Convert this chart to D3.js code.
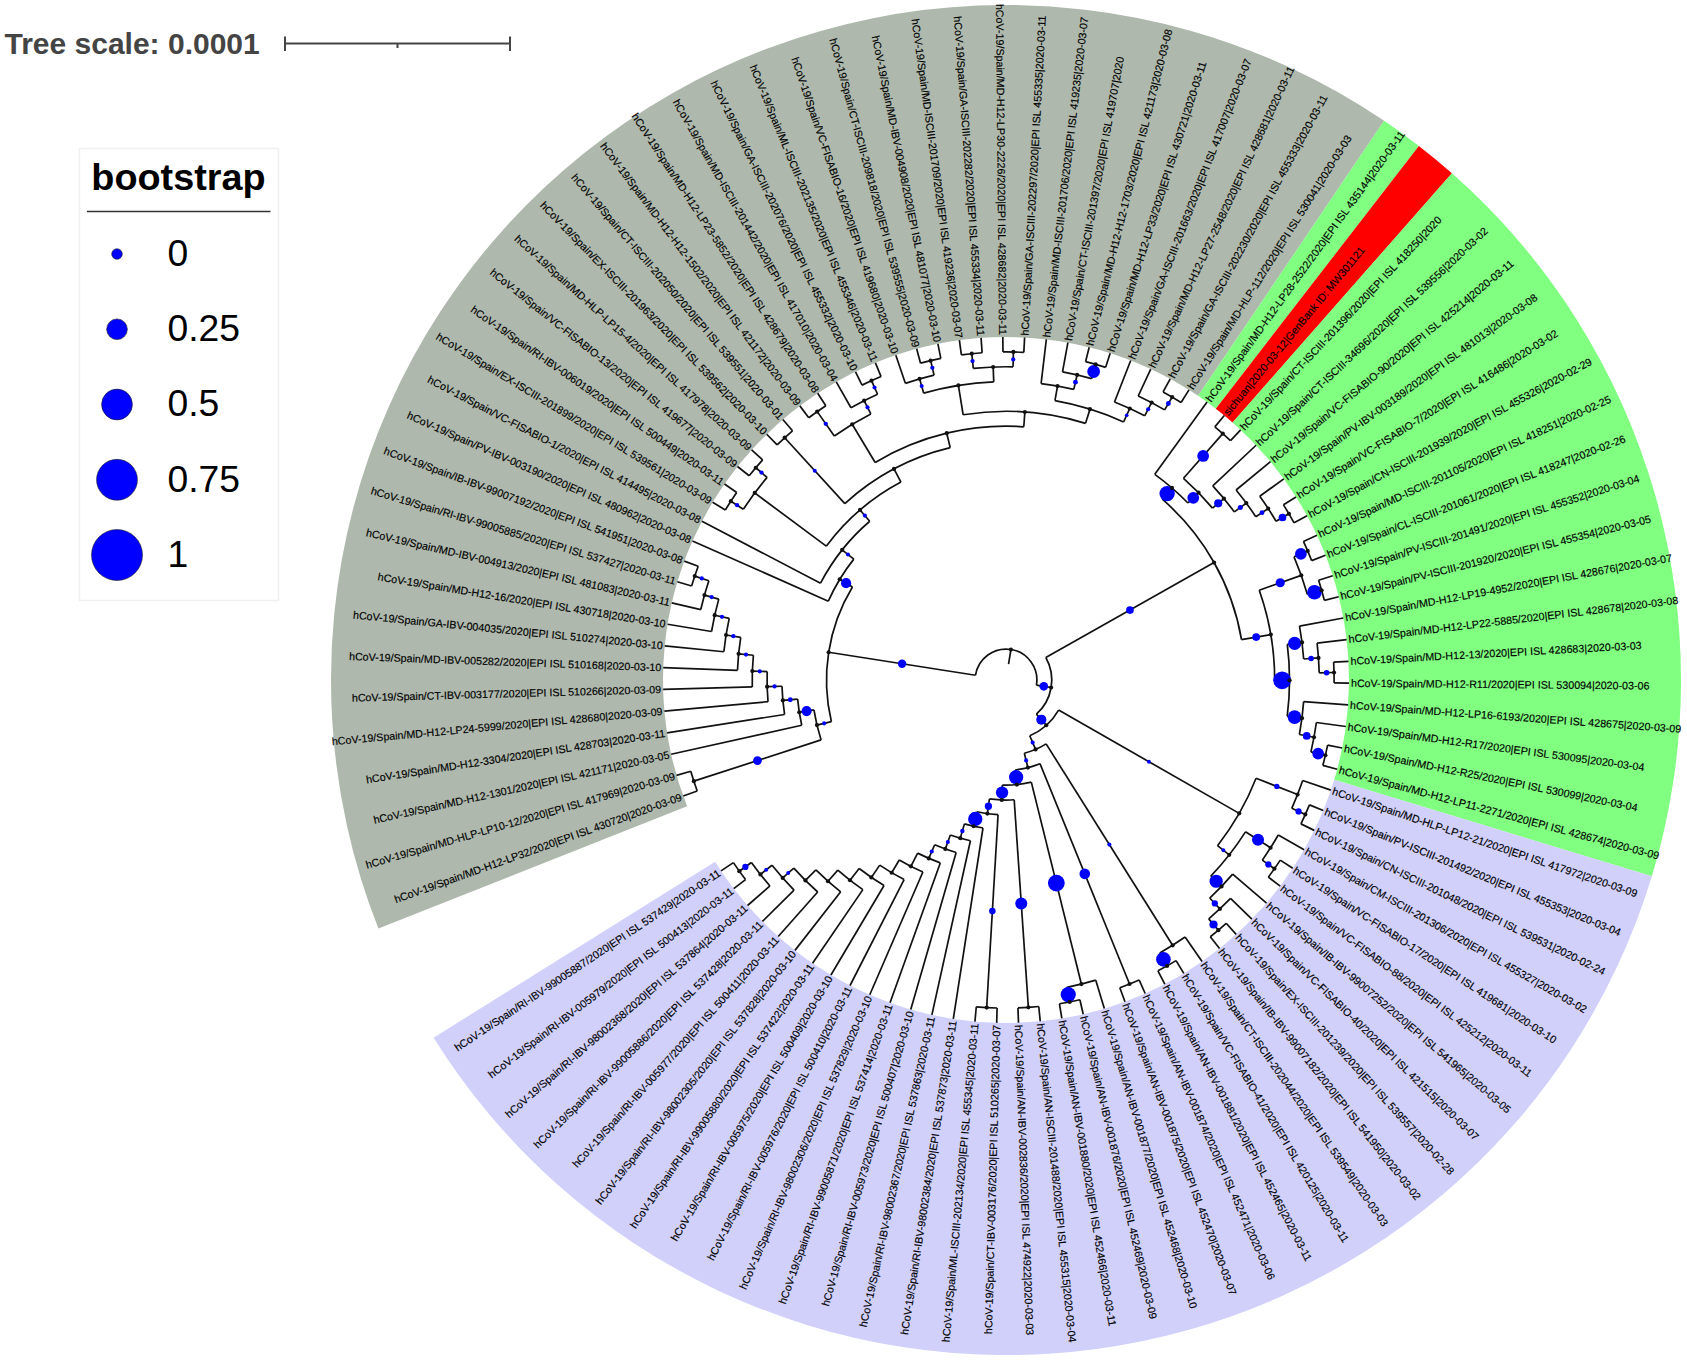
<!DOCTYPE html>
<html>
<head>
<meta charset="utf-8">
<script src="https://cdn.jsdelivr.net/npm/d3@7"></script>
<style>
  body { margin: 0; background: #fff; }
  text { font-family: "Liberation Sans", Arial, sans-serif; }
</style>
</head>
<body>
<svg id="tree" width="1687" height="1361"></svg>
<script>
// tip labels, clockwise from the lower end of the grey clade
const grayLabels = [
  "hCoV-19/Spain/MD-H12-LP32/2020|EPI ISL 430720|2020-03-09",
  "hCoV-19/Spain/MD-HLP-LP10-12/2020|EPI ISL 417969|2020-03-09",
  "hCoV-19/Spain/MD-H12-1301/2020|EPI ISL 421171|2020-03-05",
  "hCoV-19/Spain/MD-H12-3304/2020|EPI ISL 428703|2020-03-11",
  "hCoV-19/Spain/MD-H12-LP24-5999/2020|EPI ISL 428680|2020-03-09",
  "hCoV-19/Spain/CT-IBV-003177/2020|EPI ISL 510266|2020-03-09",
  "hCoV-19/Spain/MD-IBV-005282/2020|EPI ISL 510168|2020-03-10",
  "hCoV-19/Spain/GA-IBV-004035/2020|EPI ISL 510274|2020-03-10",
  "hCoV-19/Spain/MD-H12-16/2020|EPI ISL 430718|2020-03-10",
  "hCoV-19/Spain/MD-IBV-004913/2020|EPI ISL 481083|2020-03-11",
  "hCoV-19/Spain/RI-IBV-99005885/2020|EPI ISL 537427|2020-03-11",
  "hCoV-19/Spain/IB-IBV-99007192/2020|EPI ISL 541951|2020-03-08",
  "hCoV-19/Spain/PV-IBV-003190/2020|EPI ISL 480962|2020-03-08",
  "hCoV-19/Spain/VC-FISABIO-1/2020|EPI ISL 414495|2020-03-08",
  "hCoV-19/Spain/EX-ISCIII-201899/2020|EPI ISL 539561|2020-03-09",
  "hCoV-19/Spain/RI-IBV-006019/2020|EPI ISL 500449|2020-03-11",
  "hCoV-19/Spain/VC-FISABIO-13/2020|EPI ISL 419677|2020-03-09",
  "hCoV-19/Spain/MD-HLP-LP15-4/2020|EPI ISL 417978|2020-03-09",
  "hCoV-19/Spain/EX-ISCIII-201963/2020|EPI ISL 539562|2020-03-10",
  "hCoV-19/Spain/CT-ISCIII-202050/2020|EPI ISL 539551|2020-03-01",
  "hCoV-19/Spain/MD-H12-H12-1502/2020|EPI ISL 421172|2020-03-09",
  "hCoV-19/Spain/MD-H12-LP23-5852/2020|EPI ISL 428679|2020-03-08",
  "hCoV-19/Spain/MD-ISCIII-201442/2020|EPI ISL 417010|2020-03-04",
  "hCoV-19/Spain/GA-ISCIII-202076/2020|EPI ISL 455332|2020-03-10",
  "hCoV-19/Spain/ML-ISCIII-202135/2020|EPI ISL 455346|2020-03-11",
  "hCoV-19/Spain/VC-FISABIO-16/2020|EPI ISL 419680|2020-03-10",
  "hCoV-19/Spain/CT-ISCIII-209818/2020|EPI ISL 539555|2020-03-09",
  "hCoV-19/Spain/MD-IBV-004908/2020|EPI ISL 481077|2020-03-10",
  "hCoV-19/Spain/MD-ISCIII-201709/2020|EPI ISL 419236|2020-03-07",
  "hCoV-19/Spain/GA-ISCIII-202282/2020|EPI ISL 455334|2020-03-11",
  "hCoV-19/Spain/MD-H12-LP30-2226/2020|EPI ISL 428682|2020-03-11",
  "hCoV-19/Spain/GA-ISCIII-202297/2020|EPI ISL 455335|2020-03-11",
  "hCoV-19/Spain/MD-ISCIII-201706/2020|EPI ISL 419235|2020-03-07",
  "hCoV-19/Spain/CT-ISCIII-201397/2020|EPI ISL 419707|2020",
  "hCoV-19/Spain/MD-H12-H12-1703/2020|EPI ISL 421173|2020-03-08",
  "hCoV-19/Spain/MD-H12-LP33/2020|EPI ISL 430721|2020-03-11",
  "hCoV-19/Spain/GA-ISCIII-201663/2020|EPI ISL 417007|2020-03-07",
  "hCoV-19/Spain/MD-H12-LP27-2548/2020|EPI ISL 428681|2020-03-11",
  "hCoV-19/Spain/GA-ISCIII-202230/2020|EPI ISL 455333|2020-03-11",
  "hCoV-19/Spain/MD-HLP-112/2020|EPI ISL 530041|2020-03-03"
];
const greenLabels = [
  "hCoV-19/Spain/MD-H12-LP28-2522/2020|EPI ISL 435144|2020-03-11",
  "sichuan|2020-03-12|GenBank ID: MW301121",
  "hCoV-19/Spain/CT-ISCIII-201396/2020|EPI ISL 418250|2020",
  "hCoV-19/Spain/CT-ISCIII-34696/2020|EPI ISL 539556|2020-03-02",
  "hCoV-19/Spain/VC-FISABIO-90/2020|EPI ISL 425214|2020-03-11",
  "hCoV-19/Spain/PV-IBV-003189/2020|EPI ISL 481013|2020-03-08",
  "hCoV-19/Spain/VC-FISABIO-7/2020|EPI ISL 416486|2020-03-02",
  "hCoV-19/Spain/CN-ISCIII-201939/2020|EPI ISL 455326|2020-02-29",
  "hCoV-19/Spain/MD-ISCIII-201105/2020|EPI ISL 418251|2020-02-25",
  "hCoV-19/Spain/CL-ISCIII-201061/2020|EPI ISL 418247|2020-02-26",
  "hCoV-19/Spain/PV-ISCIII-201491/2020|EPI ISL 455352|2020-03-04",
  "hCoV-19/Spain/PV-ISCIII-201920/2020|EPI ISL 455354|2020-03-05",
  "hCoV-19/Spain/MD-H12-LP19-4952/2020|EPI ISL 428676|2020-03-07",
  "hCoV-19/Spain/MD-H12-LP22-5885/2020|EPI ISL 428678|2020-03-08",
  "hCoV-19/Spain/MD-H12-13/2020|EPI ISL 428683|2020-03-03",
  "hCoV-19/Spain/MD-H12-R11/2020|EPI ISL 530094|2020-03-06",
  "hCoV-19/Spain/MD-H12-LP16-6193/2020|EPI ISL 428675|2020-03-09",
  "hCoV-19/Spain/MD-H12-R17/2020|EPI ISL 530095|2020-03-04",
  "hCoV-19/Spain/MD-H12-R25/2020|EPI ISL 530099|2020-03-04",
  "hCoV-19/Spain/MD-H12-LP11-2271/2020|EPI ISL 428674|2020-03-09"
];
const lavenderLabels = [
  "hCoV-19/Spain/MD-HLP-LP12-21/2020|EPI ISL 417972|2020-03-09",
  "hCoV-19/Spain/PV-ISCIII-201492/2020|EPI ISL 455353|2020-03-04",
  "hCoV-19/Spain/CN-ISCIII-201048/2020|EPI ISL 539531|2020-02-24",
  "hCoV-19/Spain/CM-ISCIII-201306/2020|EPI ISL 455327|2020-03-02",
  "hCoV-19/Spain/VC-FISABIO-17/2020|EPI ISL 419681|2020-03-10",
  "hCoV-19/Spain/VC-FISABIO-88/2020|EPI ISL 425212|2020-03-11",
  "hCoV-19/Spain/IB-IBV-99007252/2020|EPI ISL 541965|2020-03-05",
  "hCoV-19/Spain/VC-FISABIO-40/2020|EPI ISL 421515|2020-03-07",
  "hCoV-19/Spain/EX-ISCIII-201239/2020|EPI ISL 539557|2020-02-28",
  "hCoV-19/Spain/IB-IBV-99007182/2020|EPI ISL 541950|2020-03-02",
  "hCoV-19/Spain/CT-ISCIII-202044/2020|EPI ISL 539549|2020-03-03",
  "hCoV-19/Spain/VC-FISABIO-41/2020|EPI ISL 420125|2020-03-11",
  "hCoV-19/Spain/AN-IBV-001881/2020|EPI ISL 452465|2020-03-11",
  "hCoV-19/Spain/AN-IBV-001874/2020|EPI ISL 452471|2020-03-06",
  "hCoV-19/Spain/AN-IBV-001875/2020|EPI ISL 452470|2020-03-07",
  "hCoV-19/Spain/AN-IBV-001877/2020|EPI ISL 452468|2020-03-10",
  "hCoV-19/Spain/AN-IBV-001876/2020|EPI ISL 452469|2020-03-09",
  "hCoV-19/Spain/AN-IBV-001880/2020|EPI ISL 452466|2020-03-11",
  "hCoV-19/Spain/AN-ISCIII-201488/2020|EPI ISL 455315|2020-03-04",
  "hCoV-19/Spain/AN-IBV-002836/2020|EPI ISL 474922|2020-03-03",
  "hCoV-19/Spain/CT-IBV-003176/2020|EPI ISL 510265|2020-03-07",
  "hCoV-19/Spain/ML-ISCIII-202134/2020|EPI ISL 455345|2020-03-11",
  "hCoV-19/Spain/RI-IBV-98002384/2020|EPI ISL 537873|2020-03-11",
  "hCoV-19/Spain/RI-IBV-98002367/2020|EPI ISL 537863|2020-03-11",
  "hCoV-19/Spain/RI-IBV-005973/2020|EPI ISL 500407|2020-03-10",
  "hCoV-19/Spain/RI-IBV-99005871/2020|EPI ISL 537414|2020-03-11",
  "hCoV-19/Spain/RI-IBV-98002306/2020|EPI ISL 537829|2020-03-10",
  "hCoV-19/Spain/RI-IBV-005976/2020|EPI ISL 500410|2020-03-11",
  "hCoV-19/Spain/RI-IBV-005975/2020|EPI ISL 500409|2020-03-10",
  "hCoV-19/Spain/RI-IBV-99005880/2020|EPI ISL 537422|2020-03-11",
  "hCoV-19/Spain/RI-IBV-98002305/2020|EPI ISL 537828|2020-03-10",
  "hCoV-19/Spain/RI-IBV-005977/2020|EPI ISL 500411|2020-03-11",
  "hCoV-19/Spain/RI-IBV-99005886/2020|EPI ISL 537428|2020-03-11",
  "hCoV-19/Spain/RI-IBV-98002368/2020|EPI ISL 537864|2020-03-11",
  "hCoV-19/Spain/RI-IBV-005979/2020|EPI ISL 500413|2020-03-11",
  "hCoV-19/Spain/RI-IBV-99005887/2020|EPI ISL 537429|2020-03-11"
];

// coloured ranges behind the labels, counted in tips
const rangeSizes = [40, 1, 1, 18, 36];
const rangeColors = ["#aeb8ac", "#80ff80", "#ff0000", "#80ff80", "#d0d0fb"];

// topology as newick, x = next tip in clockwise order, the number after ) = bootstrap
const grayLower = "((x,x)0.37,(x,(x,(x,(x,(x,(x,(x,(x,(x,x)0.06)0.06)0.06)0.06)0.06)0.06)0.06)0.1)0.47)0.05";
const grayUpper = "(x,(x,(((x,x)0.06,(x,x)0.06),((x,x)0.04,(((x,x)0.06,(x,(x,x)0.05)0.05),"
  + "(((x,(x,x)0.06)0.05,((x,x)0.06,(x,x)0.06)),((x,(x,(x,x)0.65)0.1),(x,(x,(x,x)0.1)0.05)0.02)))))0.05)0.05)0.47";
const greenUpper = "(x,((x,x)0.58,(x,(x,(x,(x,x)0.3)0.1)0.12)0.33)0.58)0.83";
const greenLower = "(((x,x)0.58,(x,x)0.78)0.4,((x,(x,(x,x)0.15)0.15)0.68,(x,(x,(x,x)0.58)0.3)0.72)1)0.3";
const lavenderUpper = "((x,(x,x)0.2)0.13,((x,(x,x)0.2)0.6,(x,(x,(x,x)0.33)0.2)0.68)0.03)0.03";
const lavenderMid = "(x,(x,x)0.78)0.05";
const lavenderComb = "(x,(x,(x,(x,(x,(x,(x,(x,(x,(x,(x,(x,(x,x)0.2)0.04)0.04))))))" + ")0.05)0.05)0.07)0.76";
const lavenderLower = "((x,x)0.5,((x,(x,x)0.82)0.93,((x,x)0.6,((x,x)0.22," + lavenderComb + ")0.27)0.62)0.75)0.05";
const treeNewick = "((" + grayLower + "," + grayUpper + ")0.35,"
  + "((" + greenUpper + "," + greenLower + ")0.3,"
  + "(" + lavenderUpper + ",(" + lavenderMid + "," + lavenderLower + ")0.05)0.47)0.37)";

const bootstrapTicks = [0, 0.25, 0.5, 0.75, 1];
const scaleTicks = [0, 0.00005, 0.0001];

var allLabels = grayLabels.concat(greenLabels, lavenderLabels);

// small newick reader, only what this tree needs
function parseNewick(str) {
  var pos = 0, tip = 0;
  function readNode() {
    var node = {};
    if (str[pos] === "(") {
      node.children = [];
      do {
        pos++;
        node.children.push(readNode());
      } while (str[pos] === ",");
      pos++; // closing bracket
      var start = pos;
      while (pos < str.length && /[0-9.]/.test(str[pos])) pos++;
      node.bootstrap = pos > start ? +str.slice(start, pos) : null;
    } else {
      pos++; // the x
      node.tip = tip++;
    }
    return node;
  }
  return readNode();
}

var cx = 1006, cy = 680;
var labelBandInner = 343, labelBandOuter = 675;

var svg = d3.select("#tree");
var root = d3.hierarchy(parseNewick(treeNewick));

// all tips sit on one circle, internal nodes are one level in per step of height
var angle = d3.scaleLinear()
  .domain([0, allLabels.length])
  .range([248.4 * Math.PI / 180, 598 * Math.PI / 180]);
var radius = d3.scaleLinear().domain([0, root.height + 1]).range([labelBandInner, 16]);
var dotSize = d3.scaleLinear().domain([0, 1]).range([1.7, 8.9]);
var legendSize = d3.scaleLinear().domain([0, 1]).range([5.3, 25.5]);

root.eachAfter(function(d) {
  d.angle = d.children
    ? (d.children[0].angle + d.children[d.children.length - 1].angle) / 2
    : angle(d.data.tip + 0.5);
  d.r = radius(d.height);
});

var g = svg.append("g").attr("transform", "translate(" + cx + "," + cy + ")");

// ranges
var rangeArc = d3.arc().innerRadius(labelBandInner).outerRadius(labelBandOuter);
var rangeStart = 0;
rangeSizes.forEach(function(n, i) {
  g.append("path")
    .attr("d", rangeArc({ startAngle: angle(rangeStart), endAngle: angle(rangeStart + n) }))
    .attr("fill", rangeColors[i]);
  rangeStart += n;
});

// branches
var nodes = root.descendants();
var internals = nodes.filter(function(d) { return d.children; });
var branches = g.append("g").attr("fill", "none").attr("stroke", "#111").attr("stroke-width", 1.7);

function radialLine(a, r1, r2) {
  return "M" + d3.pointRadial(a, r1) + "L" + d3.pointRadial(a, r2);
}

branches.selectAll("path.stem")
  .data(nodes)
  .join("path")
  .attr("class", "stem")
  .attr("d", function(d) {
    return radialLine(d.angle, d.parent ? d.parent.r : radius(root.height + 1), d.r);
  });

var nodeArc = d3.arc();
branches.selectAll("path.arc")
  .data(internals)
  .join("path")
  .attr("class", "arc")
  .attr("d", function(d) {
    return nodeArc({
      innerRadius: d.r,
      outerRadius: d.r,
      startAngle: d.children[0].angle,
      endAngle: d.children[d.children.length - 1].angle
    });
  });

// bootstrap dots sit halfway along the branch
g.append("g").selectAll("circle")
  .data(internals.filter(function(d) { return d.data.bootstrap !== null; }))
  .join("circle")
  .attr("transform", function(d) {
    return "translate(" + d3.pointRadial(d.angle, (d.r + d.parent.r) / 2) + ")";
  })
  .attr("r", function(d) { return dotSize(d.data.bootstrap); })
  .attr("fill", "#0000ff");

// node dots
g.append("g").selectAll("circle")
  .data(internals)
  .join("circle")
  .attr("transform", function(d) { return "translate(" + d3.pointRadial(d.angle, d.r) + ")"; })
  .attr("r", 2.1)
  .attr("fill", "#111");

// tip labels, flipped on the left half so they stay readable
g.append("g").selectAll("text")
  .data(root.leaves())
  .join("text")
  .attr("transform", function(d) {
    var deg = d.angle * 180 / Math.PI;
    var left = deg % 360 > 180;
    return "rotate(" + (left ? deg - 270 : deg - 90) + ")translate(" + (left ? -345 : 345) + ",0)";
  })
  .attr("text-anchor", function(d) { return (d.angle * 180 / Math.PI) % 360 > 180 ? "end" : "start"; })
  .attr("dy", "0.35em")
  .attr("font-size", 10.7)
  .attr("fill", "#000")
  .attr("stroke", "#000")
  .attr("stroke-width", 0.15)
  .text(function(d) { return allLabels[d.data.tip]; });

// tree scale
var scaleBar = d3.scaleLinear().domain([0, 0.0001]).range([285, 510]);
var scaleG = svg.append("g").attr("stroke", "#444").attr("stroke-width", 2);
scaleG.append("line")
  .attr("x1", scaleBar(0)).attr("x2", scaleBar(0.0001))
  .attr("y1", 43.5).attr("y2", 43.5);
scaleG.selectAll("line.tick")
  .data(scaleTicks)
  .join("line")
  .attr("class", "tick")
  .attr("x1", scaleBar).attr("x2", scaleBar)
  .attr("y1", function(d, i) { return i === 1 ? 43.5 : 36.5; })
  .attr("y2", function(d, i) { return i === 1 ? 48 : 51; });
svg.append("text")
  .attr("x", 4.5).attr("y", 53.5)
  .attr("font-size", 30).attr("font-weight", "bold").attr("fill", "#444")
  .text("Tree scale: 0.0001");

// legend
var legend = svg.append("g");
legend.append("rect")
  .attr("x", 79.5).attr("y", 148.5).attr("width", 199).attr("height", 452)
  .attr("fill", "#fff").attr("stroke", "#f0f0f0").attr("stroke-width", 1.5);
legend.append("text")
  .attr("x", 178.5).attr("y", 190)
  .attr("text-anchor", "middle")
  .attr("font-size", 37.8).attr("font-weight", "bold")
  .text("bootstrap");
legend.append("line")
  .attr("x1", 87).attr("x2", 270.5).attr("y1", 211.5).attr("y2", 211.5)
  .attr("stroke", "#333").attr("stroke-width", 1.5);

var legendY = d3.scalePoint().domain(bootstrapTicks).range([254, 555]);
legend.selectAll("circle")
  .data(bootstrapTicks)
  .join("circle")
  .attr("cx", 117).attr("cy", legendY)
  .attr("r", legendSize)
  .attr("fill", "#0000ff")
  .attr("stroke", "#222").attr("stroke-width", 0.6);
legend.selectAll("text.item")
  .data(bootstrapTicks)
  .join("text")
  .attr("class", "item")
  .attr("x", 167.5).attr("y", legendY)
  .attr("dy", "0.32em")
  .attr("font-size", 37.3)
  .text(function(d) { return d; });
</script>
</body>
</html>
